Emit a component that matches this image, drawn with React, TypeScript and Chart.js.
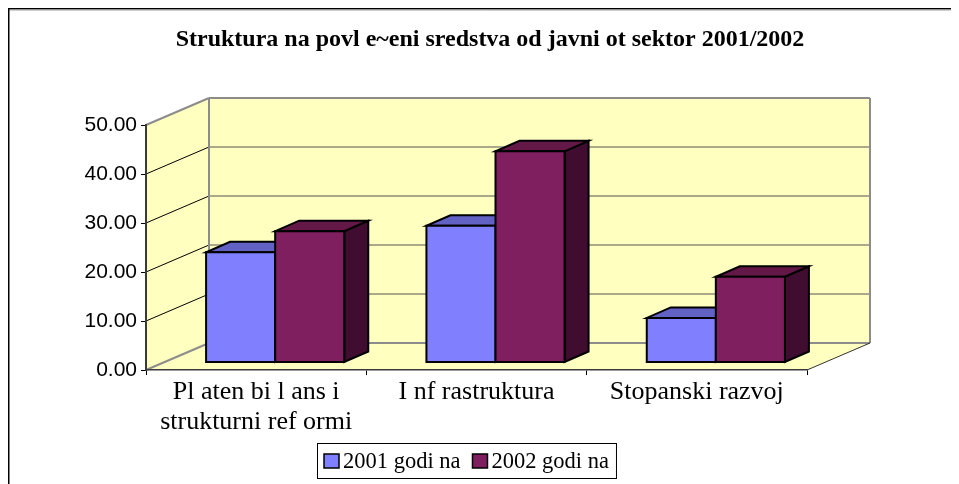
import React, { useEffect, useRef } from "react";
import { Chart, registerables } from "chart.js";

Chart.register(...registerables);

const TITLE = "Struktura na povl e~eni sredstva od javni ot sektor 2001/2002";
const categories: (string | string[])[] = [
  ["Pl aten bi l ans i", "strukturni ref ormi"],
  "I nf rastruktura",
  "Stopanski razvoj",
];
const seriesNames = ["2001 godi na", "2002 godi na"];
const values2001 = [22.5, 27.9, 9.1];
const values2002 = [26.8, 43.1, 17.5];
const yMin = 0;
const yMax = 50;
const yStep = 10;

// styles
const FRONT = ["#8080FF", "#7F1F5F"];
const TOP = ["#6262C4", "#641848"];
const SIDE = ["#40407F", "#400C30"];
const WALL = "#FFFFC0";
const DX = 63;
const DY = -27;
const BAR_OX = 19;
const BAR_OY = -7.5;
const BAR_DX = 24;
const BAR_DY = -10.5;

function poly(ctx: CanvasRenderingContext2D, pts: number[][]) {
  ctx.beginPath();
  ctx.moveTo(pts[0][0], pts[0][1]);
  for (let i = 1; i < pts.length; i++) ctx.lineTo(pts[i][0], pts[i][1]);
  ctx.closePath();
}

function line(ctx: CanvasRenderingContext2D, x0: number, y0: number, x1: number, y1: number, color: string, w: number) {
  ctx.beginPath();
  ctx.moveTo(x0, y0);
  ctx.lineTo(x1, y1);
  ctx.strokeStyle = color;
  ctx.lineWidth = w;
  ctx.stroke();
}

const threeD = {
  id: "threeD",
  beforeDraw(chart: any) {
    const { ctx, chartArea: a } = chart;
    const y = chart.scales.y;
    ctx.save();
    // frame
    line(ctx, 0, 0.75, chart.width, 0.75, "#000", 1.5);
    line(ctx, 0, 2, chart.width, 2, "#A0A0A0", 1);
    line(ctx, 0.75, 0, 0.75, chart.height, "#000", 1.5);

    // title
    ctx.fillStyle = "#000";
    ctx.font = 'bold 24px "Liberation Serif"';
    ctx.textAlign = "center";
    ctx.textBaseline = "alphabetic";
    ctx.fillText(TITLE, 482, 38);

    // walls
    ctx.fillStyle = WALL;
    poly(ctx, [[a.left, a.bottom], [a.left, a.top], [a.left + DX, a.top + DY], [a.left + DX, a.bottom + DY]]);
    ctx.fill();
    poly(ctx, [[a.left, a.bottom], [a.right, a.bottom], [a.right + DX, a.bottom + DY], [a.left + DX, a.bottom + DY]]);
    ctx.fill();
    ctx.fillRect(a.left + DX, a.top + DY, a.right - a.left, a.bottom - a.top);

    // gridlines
    for (const t of y.ticks) {
      const py = y.getPixelForValue(t.value);
      const edge = t.value === yMin || t.value === yMax;
      if (edge) {
        line(ctx, a.left, py, a.left + DX, py + DY, "#8C8C8C", 2);
        line(ctx, a.left + DX, py + DY, a.right + DX, py + DY, "#8C8C8C", 2);
      } else {
        line(ctx, a.left, py, a.left + DX, py + DY, "#000", 1);
        line(ctx, a.left + DX, py + DY, a.right + DX, py + DY, "#555", 1);
      }
    }
    line(ctx, a.left + DX, a.top + DY, a.left + DX, a.bottom + DY, "#8C8C8C", 2);
    line(ctx, a.right + DX, a.top + DY, a.right + DX, a.bottom + DY, "#8C8C8C", 2);
    line(ctx, a.right, a.bottom, a.right + DX, a.bottom + DY, "#333", 1);
    ctx.restore();
  },
  beforeDatasetsDraw(chart: any) {
    const { ctx } = chart;
    ctx.save();
    ctx.lineWidth = 2;
    ctx.lineJoin = "miter";
    ctx.strokeStyle = "#000";
    const n = chart.data.labels.length;
    for (let i = 0; i < n; i++) {
      chart.data.datasets.forEach((ds: any, d: number) => {
        const el = chart.getDatasetMeta(d).data[i];
        const p = el.getProps(["x", "y", "base", "width"], true);
        const x0 = p.x - p.width / 2 + BAR_OX;
        const x1 = p.x + p.width / 2 + BAR_OX;
        const yt = p.y + BAR_OY;
        const yb = p.base + BAR_OY;
        ctx.fillStyle = SIDE[d];
        poly(ctx, [[x1, yt], [x1 + BAR_DX, yt + BAR_DY], [x1 + BAR_DX, yb + BAR_DY], [x1, yb]]);
        ctx.fill();
        ctx.stroke();
        ctx.fillStyle = TOP[d];
        poly(ctx, [[x0, yt], [x1, yt], [x1 + BAR_DX, yt + BAR_DY], [x0 + BAR_DX, yt + BAR_DY]]);
        ctx.fill();
        ctx.stroke();
        ctx.fillStyle = ds.backgroundColor;
        poly(ctx, [[x0, yt], [x1, yt], [x1, yb], [x0, yb]]);
        ctx.fill();
        ctx.stroke();
      });
    }
    ctx.restore();
    return false;
  },
  afterDraw(chart: any) {
    const { ctx } = chart;
    ctx.save();
    ctx.font = '22.5px "Liberation Serif"';
    const left = 309;
    const top = 435;
    const h = 35;
    const pad = 7;
    const sqW = 15;
    const sqH = 14;
    const gap = 4;
    const spacing = 12;
    const widths = chart.data.datasets.map((ds: any) => ctx.measureText(ds.label).width);
    let total = pad * 2;
    widths.forEach((w: number, i: number) => {
      total += sqW + gap + w + (i < widths.length - 1 ? spacing : 0);
    });
    ctx.fillStyle = "#fff";
    ctx.fillRect(left, top, total, h);
    ctx.strokeStyle = "#000";
    ctx.lineWidth = 1;
    ctx.strokeRect(left + 0.5, top + 0.5, total, h);
    let x = left + pad;
    chart.data.datasets.forEach((ds: any, i: number) => {
      ctx.fillStyle = ds.backgroundColor;
      ctx.fillRect(x, top + 11, sqW, sqH);
      ctx.lineWidth = 1.5;
      ctx.strokeRect(x, top + 11, sqW, sqH);
      x += sqW + gap;
      ctx.fillStyle = "#000";
      ctx.textAlign = "left";
      ctx.textBaseline = "alphabetic";
      ctx.fillText(ds.label, x, top + 25);
      x += widths[i] + spacing;
    });
    ctx.restore();
  },
};

export default function App() {
  const ref = useRef<HTMLCanvasElement>(null);
  useEffect(() => {
    if (!ref.current) return;
    const chart = new Chart(ref.current, {
      type: "bar",
      data: {
        labels: categories,
        datasets: [
          { label: seriesNames[0], data: values2001, backgroundColor: FRONT[0] },
          { label: seriesNames[1], data: values2002, backgroundColor: FRONT[1] },
        ],
      },
      plugins: [threeD],
      options: {
        animation: false,
        responsive: false,
        events: [],
        layout: { padding: { left: 20, top: 117, right: 152, bottom: 44 } },
        datasets: { bar: { categoryPercentage: 0.627, barPercentage: 1 } },
        plugins: {
          legend: { display: false },
          title: { display: false },
          tooltip: { enabled: false },
        },
        scales: {
          x: {
            offset: true,
            grid: { offset: true, drawOnChartArea: false, tickLength: 5, color: "#000", lineWidth: 1 },
            border: { display: true, color: "#3A3A3A", width: 1.5 },
            ticks: {
              color: "#000",
              padding: 3,
              maxRotation: 0,
              autoSkip: false,
              font: { family: "Liberation Serif", size: 26, lineHeight: 1.12 },
            },
            afterFit: (s: any) => {
              s.height = 70;
            },
          },
          y: {
            min: yMin,
            max: yMax,
            grid: { drawOnChartArea: false, tickLength: 5, color: "#000", lineWidth: 1 },
            border: { display: true, color: "#3A3A3A", width: 2 },
            ticks: {
              stepSize: yStep,
              color: "#000",
              padding: 4,
              font: { family: "Liberation Sans", size: 21 },
              callback: (v: any) => Number(v).toFixed(2),
            },
            afterFit: (s: any) => {
              s.width = 118;
            },
          },
        },
      },
    });
    return () => chart.destroy();
  }, []);
  return (
    <div style={{ width: 951, height: 476 }}>
      <canvas ref={ref} width={951} height={476} style={{ display: "block" }} />
    </div>
  );
}
